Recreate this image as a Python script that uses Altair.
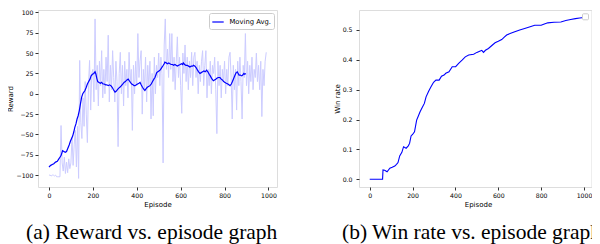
import altair as alt
import pandas as pd

# ---- data ----
RAW_STEP = 5
raw_reward = [
    -100, -100, -101, -100, -100, -101, -100, -102, -102, -102,
    -102, -39, -85, -95, -78, -98, -84, -97, -80, -92,
    -85, -53, -88, -62, -45, -90, -40, -104, 41, -35,
    -55, -5, -40, 15, -25, -60, 10, 41, -20, 25,
    30, -10, 92, 5, 35, -15, 40, 10, 53, -5,
    30, 0, 45, 15, 72, -10, 35, 5, 53, 20,
    -10, 40, 15, -65, 25, 51, 0, 35, -15, 40,
    10, 30, -5, 51, 15, 30, -45, 35, 0, 40,
    10, 74, 20, 40, 53, -25, 30, 5, 45, -10,
    35, 10, 40, -31, 25, -27, 45, 0, 35, 20,
    50, 10, 45, 25, -85, 60, 92, 30, 55, 20,
    74, 30, 74, 15, 45, 5, 40, 70, 20, 45,
    10, -24, 50, 25, 60, 15, 45, 5, 40, 20,
    51, 10, 45, 51, 20, 40, 0, 35, 15, 40,
    53, 10, 35, 53, -5, 30, 10, 40, 0, 35,
    25, 45, 5, -49, 40, 10, 35, -5, 30, 15,
    40, 0, 30, 10, 45, 51, 20, -31, 35, 5,
    30, -20, 40, 10, 45, 15, -31, 35, 20, 74,
    10, 40, 0, 35, 15, 45, 5, 30, 20, 50,
    15, 35, 5, 40, -28, 30, 10, 40, 51,
]
raw_episode = [i * RAW_STEP for i in range(len(raw_reward))]

ma_episode = [0, 8, 15, 22, 30, 38, 45, 50, 55, 62, 68, 74, 80, 86, 92, 98, 103, 108,
              113, 118, 123, 128, 133, 138, 143, 149, 154, 159, 164, 170, 175, 181, 187,
              192, 198, 204, 210, 214, 218, 222, 228, 234, 240, 246, 252, 258, 263, 270,
              276, 282, 288, 294, 301, 306, 312, 318, 323, 330, 336, 342, 348, 355, 361,
              366, 371, 377, 383, 388, 392, 398, 404, 410, 415, 420, 426, 431, 437, 442,
              448, 454, 460, 466, 472, 478, 483, 487, 491, 496, 501, 506, 511, 516, 521,
              525, 528, 534, 540, 546, 551, 557, 563, 568, 574, 579, 585, 591, 598, 604,
              609, 612, 618, 624, 630, 636, 642, 648, 654, 659, 665, 671, 677, 682, 688,
              694, 700, 706, 712, 718, 724, 730, 735, 741, 746, 749, 754, 760, 765, 771,
              779, 785, 790, 796, 802, 808, 815, 820, 825, 831, 836, 842, 848, 853, 858,
              862, 866, 872, 878, 883, 888, 892, 897]
ma_reward = [-90, -88, -87, -86, -84, -83, -80, -78, -76, -70, -71, -72, -71, -67, -63,
             -58, -55, -52, -47, -41, -37, -31, -27, -21, -13, -4, 0, 2, 4, 8, 12, 15, 18,
             22, 24, 25, 27, 24, 19, 15, 14, 13, 14, 12, 12, 11, 11, 10, 11, 10, 8, 5, 2,
             3, 5, 7, 8, 10, 12, 14, 15, 17, 18, 16, 14, 12, 11, 10, 10, 11, 12, 13, 14,
             11, 8, 6, 4, 6, 8, 9, 10, 12, 15, 18, 20, 23, 26, 27, 28, 29, 31, 33, 35, 37,
             39, 38, 37, 38, 37, 36, 36, 35, 36, 35, 34, 35, 36, 37, 36, 38, 36, 35, 35,
             34, 33, 34, 34, 35, 34, 32, 29, 27, 25, 26, 27, 28, 27, 29, 27, 24, 22, 19,
             17, 16, 17, 18, 19, 20, 20, 18, 17, 15, 14, 13, 12, 11, 10, 12, 15, 19, 23,
             26, 27, 25, 23, 23, 22, 23, 25, 24, 25]

win_episode = [0, 60, 62, 70, 81, 94, 105, 117, 125, 132, 140, 150, 158, 170, 180, 186,
               193, 200, 209, 219, 226, 235, 245, 255, 263, 275, 286, 298, 309, 324,
               335, 347, 355, 370, 385, 401, 415, 431, 446, 462, 485, 500, 516, 523,
               531, 540, 554, 570, 585, 600, 616, 628, 639, 655, 677, 700, 723, 745,
               770, 800, 815, 831, 860, 892, 915, 938, 960, 980, 1000]
win_rate = [0, 0, 0.031, 0.03, 0.025, 0.037, 0.04, 0.044, 0.05, 0.056, 0.078, 0.09, 0.109,
            0.104, 0.112, 0.12, 0.145, 0.15, 0.159, 0.198, 0.21, 0.226, 0.24, 0.254, 0.276,
            0.295, 0.31, 0.325, 0.332, 0.332, 0.345, 0.349, 0.355, 0.36, 0.377, 0.377,
            0.388, 0.399, 0.41, 0.416, 0.419, 0.425, 0.43, 0.432, 0.425, 0.432, 0.438,
            0.448, 0.457, 0.462, 0.468, 0.476, 0.483, 0.488, 0.494, 0.5, 0.505, 0.51,
            0.516, 0.516, 0.52, 0.524, 0.526, 0.527, 0.532, 0.535, 0.538, 0.54, 0.542]

reward_ticks = [-100, -75, -50, -25, 0, 25, 50, 75, 100]
episode_ticks = [0, 200, 400, 600, 800, 1000]
win_ticks = [0.0, 0.1, 0.2, 0.3, 0.4, 0.5]
caption_a = "(a) Reward vs. episode graph"
caption_b = "(b) Win rate vs. episode graph"
legend_label = "Moving Avg."

raw_df = pd.DataFrame({"Episode": raw_episode, "Reward": raw_reward})
ma_df = pd.DataFrame({"Episode": ma_episode, "Reward": ma_reward, "s": legend_label})
win_df = pd.DataFrame({"Episode": win_episode, "Win": win_rate, "s": "wr"})

AX = dict(labelFont="DejaVu Sans", labelFontSize=6.2, labelColor="#000",
          titleFont="DejaVu Sans", titleFontSize=7, titleFontWeight="normal",
          titleColor="#000", tickColor="#000", tickSize=3, tickWidth=0.8,
          domain=False, grid=False)

def cap(text, dx):
    return alt.TitleParams(text=text, orient="bottom", frame="group", anchor="start",
                           align="left", baseline="alphabetic", offset=31, dx=dx,
                           font="Liberation Serif", fontSize=21.5, fontWeight="normal",
                           color="#000")

xa = alt.X("Episode:Q", scale=alt.Scale(domain=[-50, 1039], nice=False, zero=False),
           axis=alt.Axis(values=episode_ticks, format="d", title="Episode", labelPadding=2,
                         titlePadding=2.5, **AX))
ya = alt.Y("Reward:Q", scale=alt.Scale(domain=[-114.6, 103], nice=False, zero=False),
           axis=alt.Axis(values=reward_ticks, title="Reward", labelPadding=2,
                         titlePadding=2.9, **AX))

raw_line = alt.Chart(raw_df).mark_line(color="#ccccff", strokeWidth=1).encode(x=xa, y=ya)
ma_line = alt.Chart(ma_df).mark_line(strokeWidth=1.2).encode(
    x=xa, y=ya,
    color=alt.Color("s:N", scale=alt.Scale(domain=[legend_label], range=["#0000ff"]),
                    legend=alt.Legend(orient="top-right", title=None, offset=3,
                                      padding=2.5, cornerRadius=2, strokeColor="#cccccc",
                                      fillColor="rgba(255,255,255,0.8)",
                                      symbolType="stroke", symbolStrokeWidth=1.2,
                                      symbolSize=130, labelFont="DejaVu Sans",
                                      labelFontSize=6.8, labelColor="#000",
                                      labelOffset=5)))
left = alt.layer(raw_line, ma_line).properties(width=239, height=177, title=cap(caption_a, -12))

xb = alt.X("Episode:Q", scale=alt.Scale(domain=[-50, 1035], nice=False, zero=False),
           axis=alt.Axis(values=episode_ticks, format="d", title="Episode", labelPadding=2,
                         titlePadding=2.5, titleX=119, **AX))
yb = alt.Y("Win:Q", scale=alt.Scale(domain=[-0.026, 0.567], nice=False, zero=False),
           axis=alt.Axis(values=win_ticks, format=".1f", title="Win rate",
                         labelPadding=4, titlePadding=1.2, **AX))
win_line = alt.Chart(win_df).mark_line(strokeWidth=1.1).encode(
    x=xb, y=yb,
    color=alt.Color("s:N", scale=alt.Scale(domain=["wr"], range=["#0000ff"]),
                    legend=alt.Legend(orient="none", legendX=223, legendY=3.3, title=None,
                                      padding=2.5, cornerRadius=1, strokeColor="#cccccc",
                                      fillColor="#ffffff", labelExpr="''",
                                      symbolSize=0, symbolStrokeWidth=0,
                                      labelFontSize=1, labelOffset=0)))
right = win_line.properties(width=232.5, height=177, title=cap(caption_b, -17))

chart = alt.hconcat(left, right, spacing=82, bounds="flush").resolve_scale(
    color="independent").properties(
    autosize=alt.AutoSizeParams(type="none"),
    padding={"left": 30, "top": 2, "right": 554, "bottom": 234}
).configure_view(stroke="#000", strokeWidth=0.8).configure(background="white")

chart.save("out.html", embed_options={"renderer": "svg", "actions": False})
